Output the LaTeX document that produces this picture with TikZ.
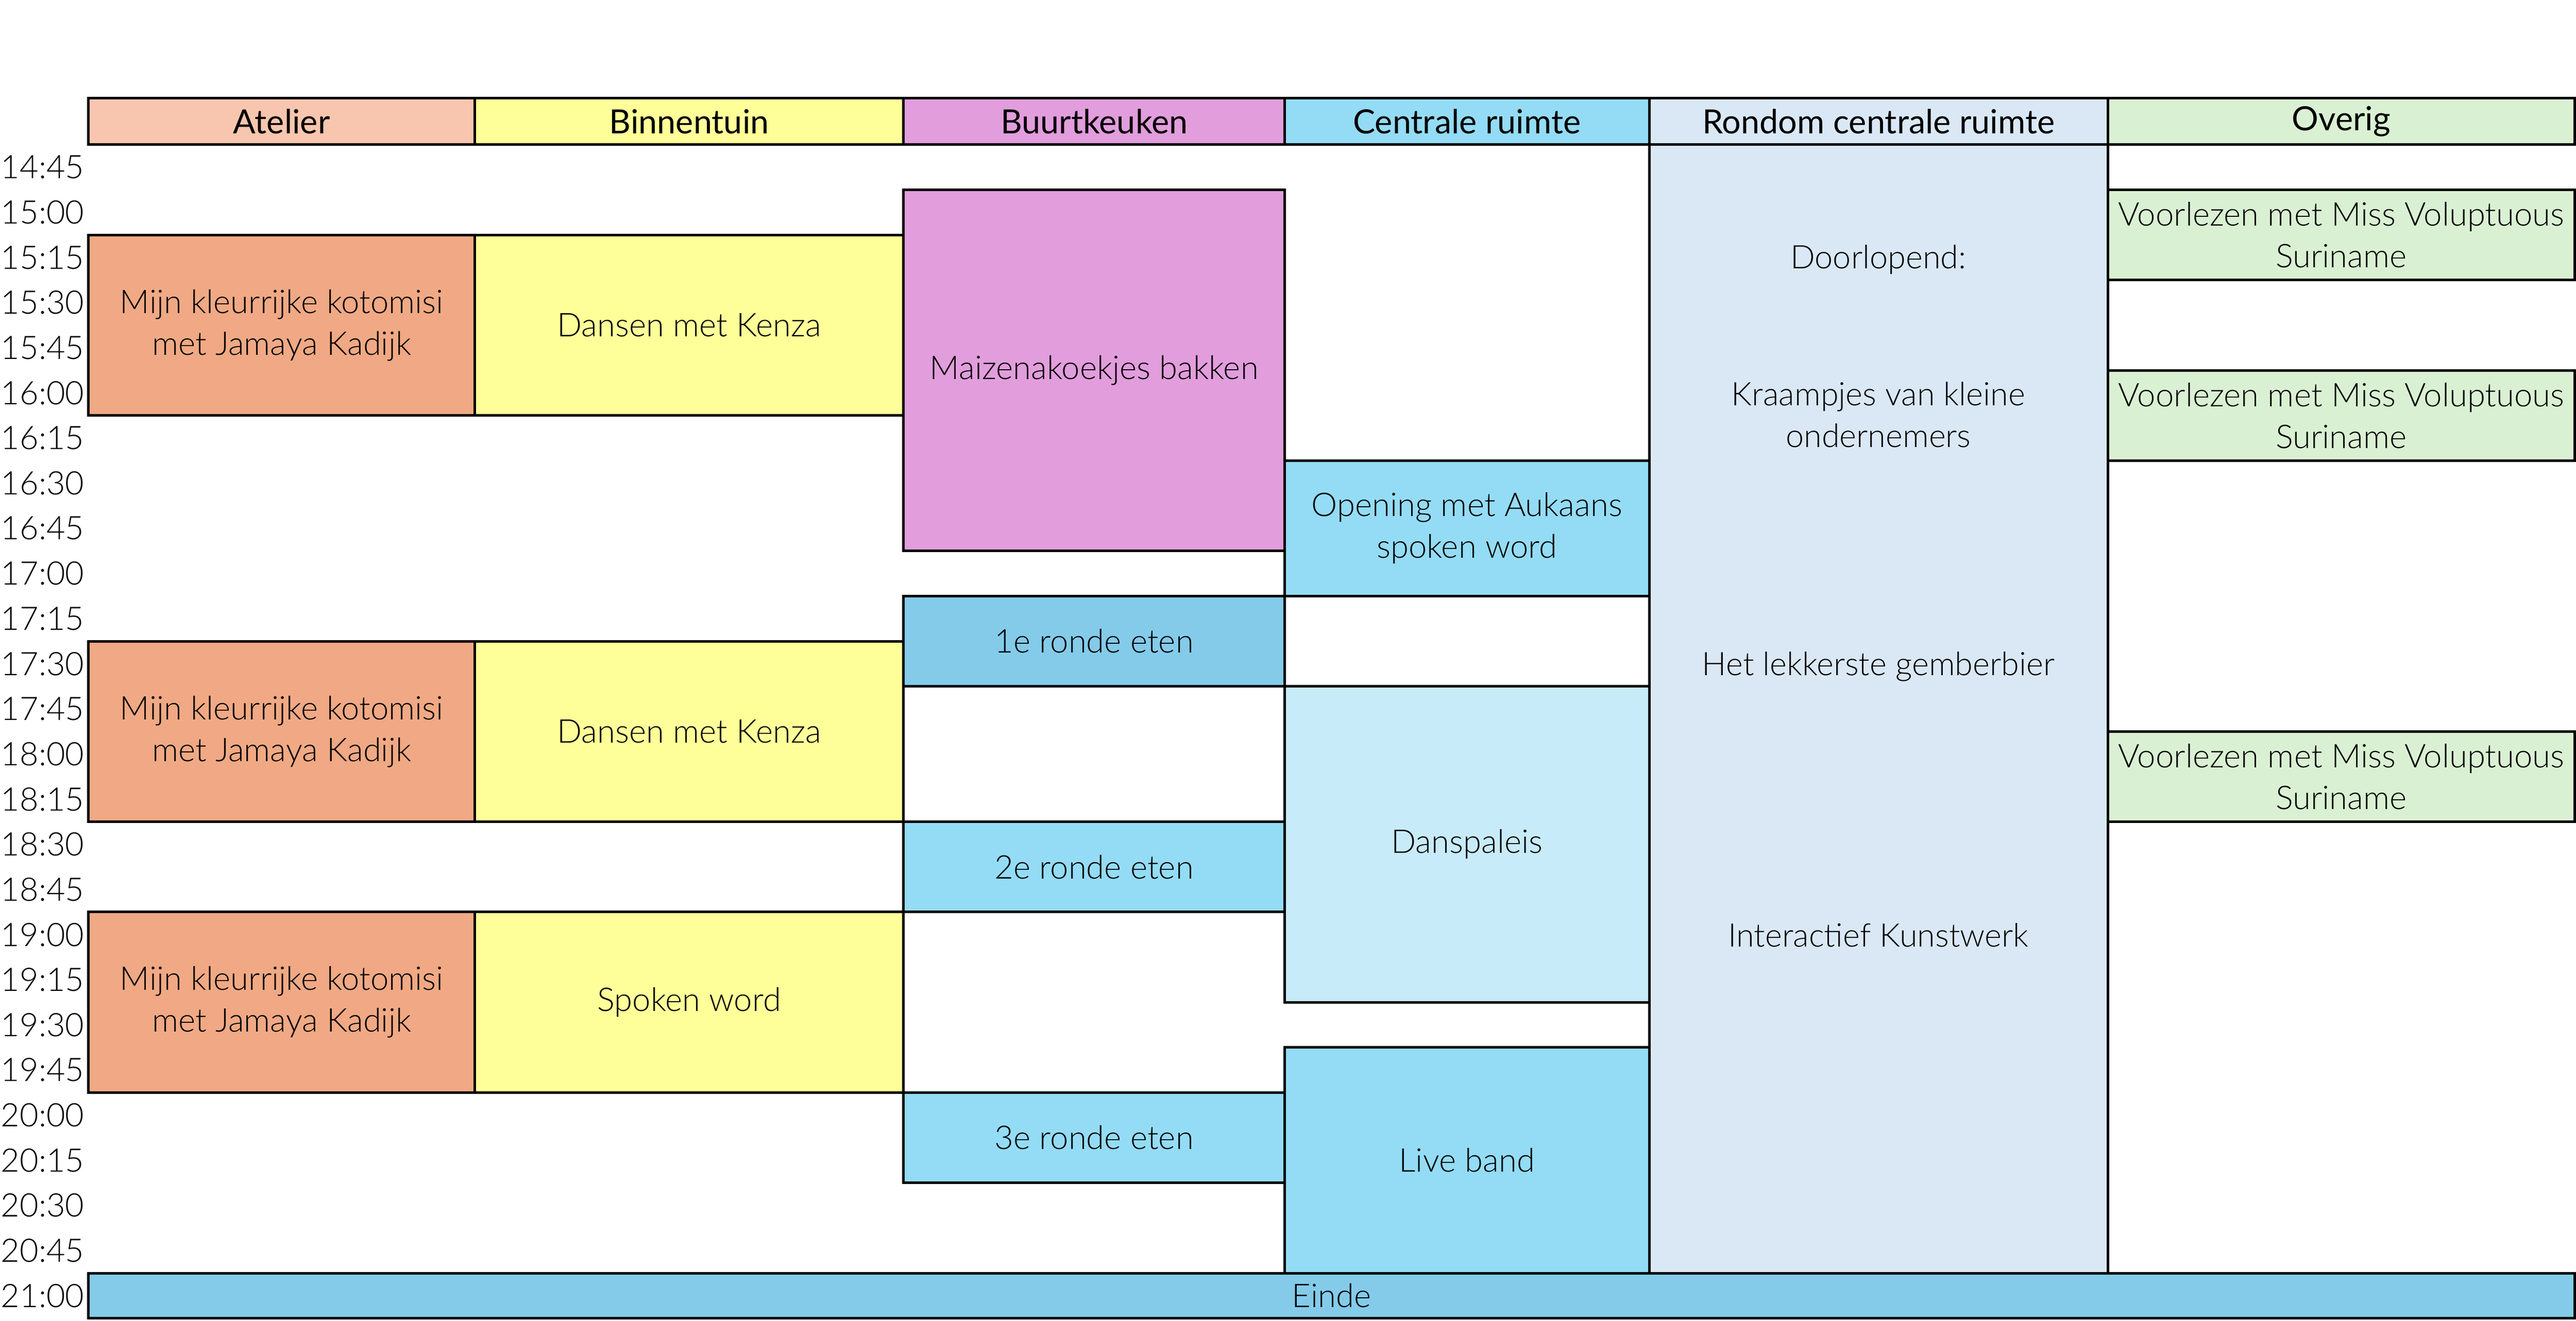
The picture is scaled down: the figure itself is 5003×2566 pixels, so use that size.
\documentclass[tikz,border=0pt]{standalone}
\usepackage{fontspec}
\setmainfont{Lato Light}
\newfontfamily\hdrfont{Lato}
\definecolor{cAtH}{HTML}{F8C6AE}
\definecolor{cAt}{HTML}{F0A984}
\definecolor{cBin}{HTML}{FFFF99}
\definecolor{cBuu}{HTML}{E29DDD}
\definecolor{cCen}{HTML}{94DCF5}
\definecolor{cDark}{HTML}{84CBEA}
\definecolor{cDans}{HTML}{C8EBF9}
\definecolor{cRon}{HTML}{DAE8F6}
\definecolor{cOve}{HTML}{DAF0D3}
\tikzset{
  blk/.style={draw=black, line width=0.5pt, inner sep=0pt, outer sep=0pt, align=center,
    font=\fontsize{6.35}{8.1}\selectfont},
  hdr/.style={blk, font=\hdrfont\fontsize{6.48}{8}\selectfont},
  timelbl/.style={anchor=west, inner sep=0pt, font=\fontsize{6.3}{8}\selectfont},
  rtxt/.style={anchor=base, inner sep=0pt, align=center, font=\fontsize{6.3}{8.1}\selectfont},
}
% name, x-left, x-right, row-top, row-bottom, fill, text
\newcommand\blk[7]{\node[blk, fill=#6, minimum width={(#3-#2)*0.1pt}, minimum height={(#5-#4)*8.77pt}] (#1) at ({(#2+#3)/2},{281+87.7*(#4+#5)/2}) {#7};}
\newcommand\hdrbox[5]{\node[hdr, fill=#4, minimum width={(#3-#2)*0.1pt}, minimum height=9pt] (#1) at ({(#2+#3)/2},236) {#5};}
\begin{document}
\begin{tikzpicture}[x=0.1pt,y=-0.1pt]
\useasboundingbox (0,0) rectangle (5003,2566);
% headers
\hdrbox{hA}{172}{922}{cAtH}{Atelier}
\hdrbox{hB}{922}{1755}{cBin}{Binnentuin}
\hdrbox{hK}{1755}{2495}{cBuu}{Buurtkeuken}
\hdrbox{hC}{2495}{3203}{cCen}{Centrale ruimte}
\hdrbox{hR}{3203}{4094}{cRon}{Rondom centrale ruimte}
\hdrbox{hO}{4094}{5000}{cOve}{Overig}
% time labels
\foreach \t [count=\i from 0] in {14:45,15:00,15:15,15:30,15:45,16:00,16:15,16:30,16:45,17:00,17:15,17:30,17:45,18:00,18:15,18:30,18:45,19:00,19:15,19:30,19:45,20:00,20:15,20:30,20:45,21:00}
  \node[timelbl] (t\i) at (0,{281+87.7*(\i+0.5)}) {\t};
% Rondom centrale ruimte
\blk{ron}{3203}{4094}{0}{25}{cRon}{}
\node[rtxt] (r1) at (3648,522) {Doorlopend:};
\node[rtxt] (r2) at (3648,869) {Kraampjes van kleine\\ondernemers};
\node[rtxt] (r3) at (3648,1312) {Het lekkerste gemberbier};
\node[rtxt] (r4) at (3648,1840) {Interactief Kunstwerk};
% Atelier
\blk{a1}{172}{922}{2}{6}{cAt}{Mijn kleurrijke kotomisi\\met Jamaya Kadijk}
\blk{a2}{172}{922}{11}{15}{cAt}{Mijn kleurrijke kotomisi\\met Jamaya Kadijk}
\blk{a3}{172}{922}{17}{21}{cAt}{Mijn kleurrijke kotomisi\\met Jamaya Kadijk}
% Binnentuin
\blk{b1}{922}{1755}{2}{6}{cBin}{Dansen met Kenza}
\blk{b2}{922}{1755}{11}{15}{cBin}{Dansen met Kenza}
\blk{b3}{922}{1755}{17}{21}{cBin}{Spoken word}
% Buurtkeuken
\blk{k1}{1755}{2495}{1}{9}{cBuu}{Maizenakoekjes bakken}
\blk{k2}{1755}{2495}{10}{12}{cDark}{1e ronde eten}
\blk{k3}{1755}{2495}{15}{17}{cCen}{2e ronde eten}
\blk{k4}{1755}{2495}{21}{23}{cCen}{3e ronde eten}
% Centrale ruimte
\blk{c1}{2495}{3203}{7}{10}{cCen}{Opening met Aukaans\\spoken word}
\blk{c2}{2495}{3203}{12}{19}{cDans}{Danspaleis}
\blk{c3}{2495}{3203}{20}{25}{cCen}{Live band}
% Overig
\blk{o1}{4094}{5000}{1}{3}{cOve}{Voorlezen met Miss Voluptuous\\Suriname}
\blk{o2}{4094}{5000}{5}{7}{cOve}{Voorlezen met Miss Voluptuous\\Suriname}
\blk{o3}{4094}{5000}{13}{15}{cOve}{Voorlezen met Miss Voluptuous\\Suriname}
% Einde
\blk{einde}{172}{5000}{25}{26}{cDark}{Einde}
\end{tikzpicture}
\end{document}
